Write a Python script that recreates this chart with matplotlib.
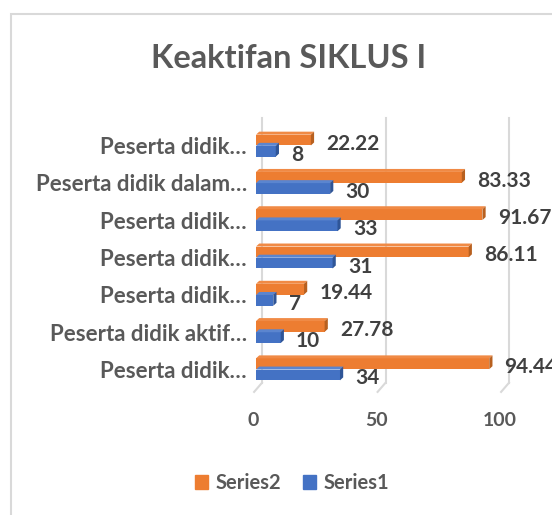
import matplotlib
matplotlib.use("Agg")
import matplotlib.pyplot as plt
from matplotlib.patches import Polygon, Rectangle
from matplotlib.transforms import ScaledTranslation

categories = [
    "Peserta didik…",
    "Peserta didik dalam…",
    "Peserta didik…",
    "Peserta didik…",
    "Peserta didik…",
    "Peserta didik aktif…",
    "Peserta didik…",
]
series1 = [8, 30, 33, 31, 7, 10, 34]
series2 = [22.22, 83.33, 91.67, 86.11, 19.44, 27.78, 94.44]
x_ticks = [0, 50, 100]

ORANGE = "#ED7D31"
BLUE = "#4472C4"
TEXT = "#595959"
LABEL = "#404040"

plt.rcParams["font.family"] = ["Lato", "DejaVu Sans"]
plt.rcParams["font.weight"] = "bold"

fig = plt.figure(figsize=(5.52, 5.15), dpi=100)
W, H = 552, 515

# chart frame (cut off on right and bottom)
fig.patches.append(Rectangle((11 / W, -0.1), 1.2, 1 - 14 / H + 0.1,
                             transform=fig.transFigure, fill=False,
                             edgecolor="#d9d9d9", linewidth=1.5))

ax = fig.add_axes([256 / W, 1 - 388 / H, 247 / W, 261 / H])
ax.set_xlim(0, 100)
ax.set_ylim(6.5, -0.5)
for s in ax.spines.values():
    s.set_visible(False)

# gridlines sit on the back wall of the 3D box
back = ax.get_xaxis_transform() + ScaledTranslation(6 / 100, 0, fig.dpi_scale_trans)
for t in x_ticks:
    ax.plot([t, t], [1.034, 0.02], color="#d9d9d9", lw=1.5, zorder=0,
            transform=back, clip_on=False)
    ax.plot([t, t - 3.2], [0.02, -0.015], color="#d9d9d9", lw=1.5, zorder=0,
            transform=back, clip_on=False)

bh = 0.29
dx, dy = 1.3, 0.08


def bar3d(y, v, color, side, top):
    ax.barh(y, v, height=bh, color=color, zorder=2)
    t, b = y - bh / 2, y + bh / 2
    ax.add_patch(Polygon([(0, t), (v, t), (v + dx, t - dy), (dx, t - dy)],
                         closed=True, color=top, zorder=2, lw=0))
    ax.add_patch(Polygon([(v, t), (v + dx, t - dy), (v + dx, b - dy), (v, b)],
                         closed=True, color=side, zorder=2, lw=0))


off = 0.15
for i, (a, b) in enumerate(zip(series1, series2)):
    bar3d(i - off, b, ORANGE, "#B8601F", "#F08A45")
    bar3d(i + off, a, BLUE, "#2F5597", "#5B85CF")
    ax.annotate(f"{b:.2f}", (b, i - off), xytext=(11, -2.5), textcoords="offset points",
                va="center", ha="left", fontsize=15, fontweight="bold",
                color=LABEL, annotation_clip=False)
    ax.annotate(f"{a}", (a, i + off), xytext=(11, -2.5), textcoords="offset points",
                va="center", ha="left", fontsize=15, fontweight="bold",
                color=LABEL, annotation_clip=False)

ax.set_yticks(range(len(categories)))
ax.set_yticklabels(categories, fontsize=16, fontweight="bold", color=TEXT)
ax.set_xticks(x_ticks)
ax.set_xticklabels([str(t) for t in x_ticks], fontsize=14, fontweight="bold", color=TEXT)
ax.tick_params(axis="y", length=0, pad=6.5)
ax.tick_params(axis="x", length=0, pad=17)
shift = ScaledTranslation(-3 / 100, 0, fig.dpi_scale_trans)
for lab in ax.get_xticklabels():
    lab.set_transform(lab.get_transform() + shift)

fig.text(289 / W, 1 - 58 / H, "Keaktifan SIKLUS I", ha="center", va="center",
         fontsize=23.5, fontweight="bold", color=TEXT)

handles = [Rectangle((0, 0), 1, 1, color=ORANGE), Rectangle((0, 0), 1, 1, color=BLUE)]
fig.legend(handles, ["Series2", "Series1"], loc="center", ncol=2,
           bbox_to_anchor=(292 / W, 1 - 483 / H), frameon=False,
           handlelength=0.65, handleheight=0.65, handletextpad=0.35, columnspacing=1.1,
           prop={"size": 14.5, "weight": "bold"}, labelcolor=TEXT)

fig.savefig("out.png", dpi=100)
